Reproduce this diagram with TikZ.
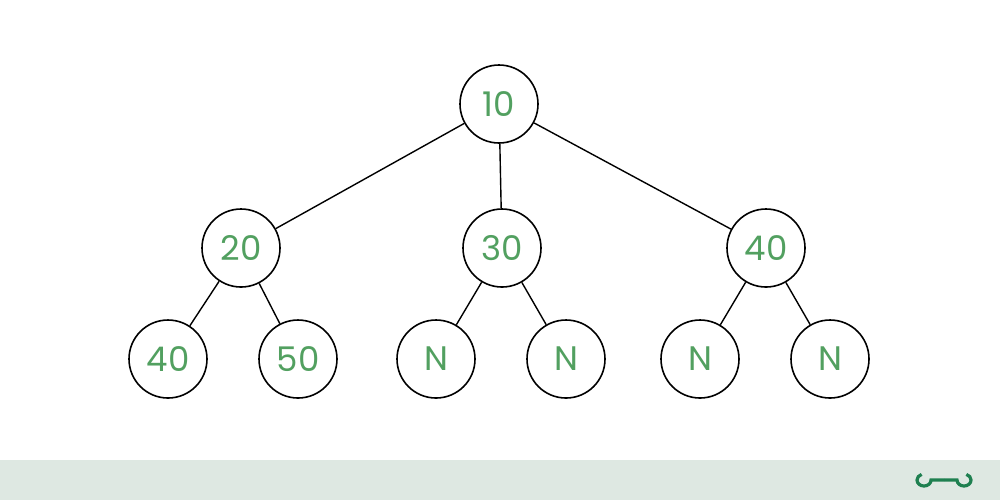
\documentclass[tikz,border=0pt]{standalone}
\usepackage{fontspec}
\setmainfont{Poppins}
\definecolor{txt}{RGB}{82,160,96}
\definecolor{band}{RGB}{222,232,226}
\definecolor{logo}{RGB}{30,128,80}
\begin{document}
\begin{tikzpicture}[x=0.5pt,y=-0.5pt,
  tnode/.style={circle,draw=black,thick,fill=white,minimum size=39pt,inner sep=0pt,font=\fontsize{17}{17}\selectfont,text=txt},
  edge/.style={draw=black,line width=0.7pt}]
\useasboundingbox (0,0) rectangle (1000,500);
\fill[white] (0,0) rectangle (1000,500);
\fill[band] (0,460) rectangle (1000,500);
\node[tnode] (r) at (499,104) {10};
\node[tnode] (a) at (241,248) {20};
\node[tnode] (b) at (502,248) {30};
\node[tnode] (c) at (766,248) {40};
\node[tnode] (a1) at (168,359) {40};
\node[tnode] (a2) at (298,359) {50};
\node[tnode] (b1) at (436,359) {N};
\node[tnode] (b2) at (566,359) {N};
\node[tnode] (c1) at (700,359) {N};
\node[tnode] (c2) at (830,359) {N};
\foreach \p/\q in {r/a,r/b,r/c,a/a1,a/a2,b/b1,b/b2,c/c1,c/c2} \draw[edge] (\p) -- (\q);
% logo
\begin{scope}[draw=logo,line width=1.6pt]
\draw (944,480) -- (931,480) arc[start angle=0,end angle=-250,x radius=7,y radius=-6];
\draw (944,480) -- (957,480) arc[start angle=180,end angle=430,x radius=7,y radius=-6];
\end{scope}
\end{tikzpicture}
\end{document}
